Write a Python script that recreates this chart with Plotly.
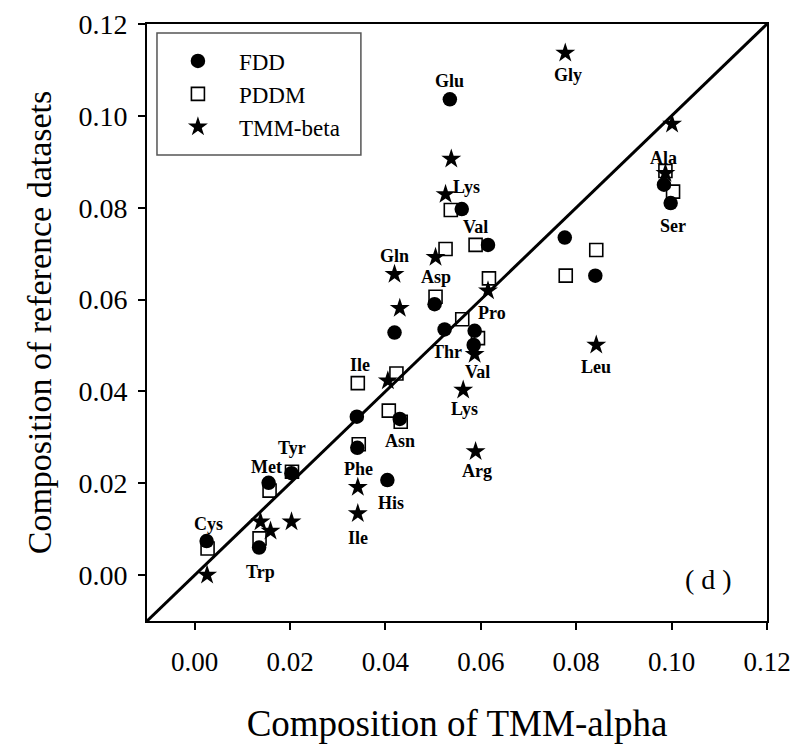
import plotly.graph_objects as go

# ---- data ----
fdd_x = [0.0535, 0.0560, 0.0984, 0.0998, 0.0776, 0.0840, 0.0615, 0.0503, 0.0419, 0.0524,
         0.0587, 0.0585, 0.0430, 0.0404, 0.0340, 0.0341, 0.0203, 0.0155, 0.0025, 0.0135]
fdd_y = [0.1036, 0.0797, 0.0850, 0.0810, 0.0735, 0.0652, 0.0719, 0.0590, 0.0528, 0.0535,
         0.0532, 0.0501, 0.0340, 0.0207, 0.0345, 0.0277, 0.0222, 0.0201, 0.0074, 0.0060]

pddm_x = [0.0537, 0.0987, 0.1003, 0.0842, 0.0778, 0.0589, 0.0526, 0.0617, 0.0505, 0.0561,
          0.0594, 0.0423, 0.0407, 0.0432, 0.0342, 0.0344, 0.0204, 0.0157, 0.0027, 0.0136]
pddm_y = [0.0795, 0.0880, 0.0835, 0.0708, 0.0652, 0.0719, 0.0710, 0.0646, 0.0606, 0.0557,
          0.0516, 0.0439, 0.0358, 0.0334, 0.0418, 0.0285, 0.0225, 0.0184, 0.0058, 0.0080]

beta_x = [0.0777, 0.0538, 0.0526, 0.1001, 0.0987, 0.0505, 0.0419, 0.0615, 0.0430, 0.0587,
          0.0842, 0.0405, 0.0563, 0.0589, 0.0342, 0.0342, 0.0138, 0.0159, 0.0203, 0.0026]
beta_y = [0.1137, 0.0906, 0.0829, 0.0982, 0.0875, 0.0692, 0.0655, 0.0619, 0.0581, 0.0481,
          0.0501, 0.0423, 0.0403, 0.0269, 0.0191, 0.0134, 0.0116, 0.0096, 0.0116, 0.0000]

label_text = ["Glu", "Gly", "Lys", "Ala", "Ser", "Val", "Gln", "Asp", "Pro", "Thr", "Val", "Leu",
              "Ile", "Lys", "Asn", "Arg", "Tyr", "Met", "Phe", "His", "Ile", "Cys", "Trp"]
label_x = [0.0535, 0.0783, 0.0570, 0.0982, 0.1003, 0.0589, 0.0419, 0.0505, 0.0624, 0.0530, 0.0594, 0.0842,
           0.0346, 0.0565, 0.0430, 0.0591, 0.0203, 0.0150, 0.0344, 0.0411, 0.0342, 0.0028, 0.0138]
label_y = [0.1075, 0.1089, 0.0846, 0.0909, 0.0760, 0.0759, 0.0695, 0.0650, 0.0570, 0.0486, 0.0442, 0.0454,
           0.0458, 0.0362, 0.0292, 0.0227, 0.0276, 0.0236, 0.0232, 0.0156, 0.0080, 0.0111, 0.0007]

x_ticks = [0.00, 0.02, 0.04, 0.06, 0.08, 0.10, 0.12]
y_ticks = [0.00, 0.02, 0.04, 0.06, 0.08, 0.10, 0.12]
axis_range = [-0.01, 0.12]

SERIF = "Liberation Serif, Times New Roman, serif"

fig = go.Figure()

# identity line y = x across the axis range
fig.add_trace(go.Scatter(x=axis_range, y=axis_range, mode="lines",
                         line=dict(color="black", width=3), showlegend=False, hoverinfo="skip"))

fig.add_trace(go.Scatter(x=fdd_x, y=fdd_y, mode="markers", name="FDD",
                         marker=dict(symbol="circle", size=14.5, color="black",
                                     line=dict(width=0))))
fig.add_trace(go.Scatter(x=pddm_x, y=pddm_y, mode="markers", name="PDDM",
                         marker=dict(symbol="square-open", size=13, color="black",
                                     line=dict(width=1.6, color="black"))))
fig.add_trace(go.Scatter(x=beta_x, y=beta_y, mode="markers", name="TMM-beta",
                         marker=dict(symbol="star", size=15, color="black",
                                     line=dict(width=0))))

for t, lx, ly in zip(label_text, label_x, label_y):
    fig.add_annotation(x=lx, y=ly, text="<b>%s</b>" % t, showarrow=False,
                       font=dict(family=SERIF, size=18, color="black"),
                       xanchor="center", yanchor="middle")

fig.add_annotation(x=0.1078, y=-0.001, text="( d )", showarrow=False,
                   font=dict(family=SERIF, size=28, color="black"),
                   xanchor="center", yanchor="middle")

# legend frame
fig.add_shape(type="rect", xref="paper", yref="paper", x0=0.0161, x1=0.345, y0=0.7806, y1=0.985,
              line=dict(color="#555555", width=1.5), fillcolor="white", layer="below")

fig.update_xaxes(range=axis_range, tickvals=x_ticks, ticktext=["%.2f" % v for v in x_ticks],
                 showgrid=False, zeroline=False, showline=True, mirror=True,
                 linecolor="black", linewidth=2, ticks="outside", ticklen=7, tickwidth=2,
                 tickcolor="black", ticklabelstandoff=9,
                 tickfont=dict(family=SERIF, size=27, color="black"),
                 title=dict(text="Composition of TMM-alpha", standoff=36,
                            font=dict(family=SERIF, size=37, color="black")))
fig.update_yaxes(range=axis_range, tickvals=y_ticks, ticktext=["%.2f" % v for v in y_ticks],
                 showgrid=False, zeroline=False, showline=True, mirror=True,
                 linecolor="black", linewidth=2, ticks="outside", ticklen=7, tickwidth=2,
                 tickcolor="black", ticklabelstandoff=5,
                 tickfont=dict(family=SERIF, size=28, color="black"),
                 title=dict(text="Composition of reference datasets", standoff=17,
                            font=dict(family=SERIF, size=34, color="black")))

fig.update_layout(
    width=784, height=736,
    margin=dict(l=139, r=25, t=16, b=123, autoexpand=False),
    paper_bgcolor="white", plot_bgcolor="white",
    showlegend=True,
    legend=dict(x=0.016, y=0.8827, xanchor="left", yanchor="middle",
                bgcolor="rgba(0,0,0,0)", borderwidth=0,
                font=dict(family=SERIF, size=23, color="black"),
                itemwidth=72, tracegroupgap=0),
)

fig.write_html("out.html")
